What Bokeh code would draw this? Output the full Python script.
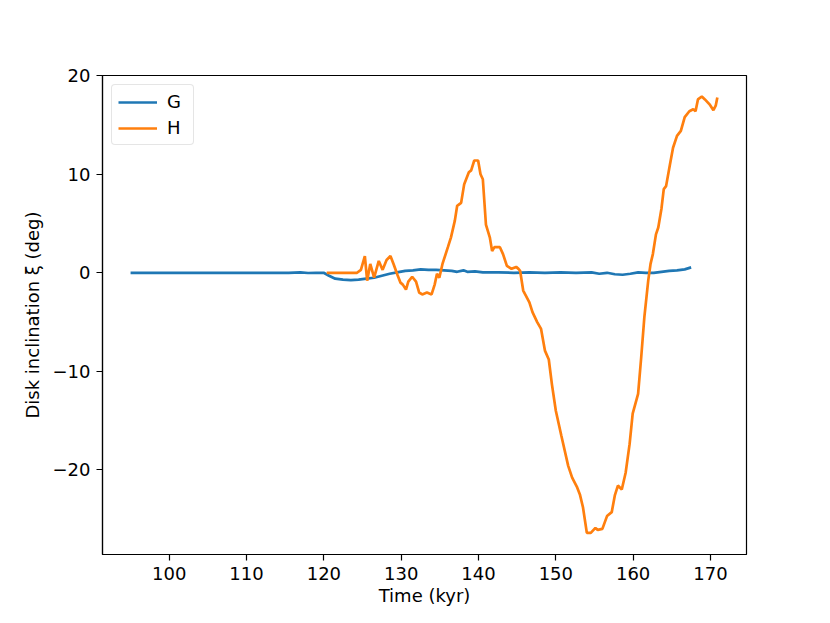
from bokeh.plotting import figure
from bokeh.models import FixedTicker, Range1d, Legend, LegendItem
from bokeh.embed import file_html
from bokeh.resources import INLINE

G_t = [95.0, 100.39, 105.41, 110.43, 115.45, 116.96, 117.96, 118.97, 119.97, 120.67, 121.47,
       122.47, 123.49, 124.49, 125.49, 126.50, 127.50, 128.51, 129.81, 130.52, 131.52, 132.52,
       133.53, 134.53, 135.54, 136.54, 137.24, 138.05, 138.55, 139.55, 140.56, 142.57, 144.58,
       146.58, 148.59, 150.60, 152.61, 154.62, 155.62, 156.63, 157.63, 158.64, 159.64, 160.65,
       161.65, 162.66, 163.66, 164.66, 165.67, 166.67, 167.5]
G_v = [0, 0, 0, 0, 0, 0.05, -0.02, 0, 0, -0.3, -0.6,
       -0.7, -0.75, -0.7, -0.6, -0.5, -0.3, -0.1, 0.1, 0.2, 0.25, 0.35,
       0.3, 0.3, 0.25, 0.2, 0.1, 0.25, 0.1, 0.15, 0.05, 0.05, 0.0,
       0.05, 0.0, 0.05, 0.0, 0.05, -0.1, 0.0, -0.15, -0.2, -0.1, 0.05,
       0.0, 0.0, 0.1, 0.2, 0.25, 0.35, 0.55]

H_t = [120.37, 124.29, 124.79, 125.30, 125.60, 126.00, 126.50, 127.10, 127.60, 128.11,
       128.61, 129.01, 129.51, 129.91, 130.21, 130.62, 130.92, 131.42, 131.92, 132.32,
       132.72, 133.33, 133.93, 134.33, 134.63, 134.93, 135.34, 136.04, 136.44, 136.94,
       137.24, 137.75, 138.15, 138.75, 139.05, 139.45, 139.95, 140.26, 140.56, 140.96,
       141.46, 141.76, 142.06, 142.77, 143.17, 143.67, 144.27, 144.87, 145.17, 145.38,
       145.78, 146.58, 146.98, 147.59, 148.09, 148.59, 149.09, 149.49, 150.00, 150.70,
       151.60, 152.11, 152.71, 153.11, 153.51, 154.01, 154.52, 155.12, 155.42, 156.02,
       156.62, 157.23, 157.63, 158.03, 158.53, 159.03, 159.54, 159.94, 160.64, 161.04,
       161.45, 161.95, 162.25, 162.55, 162.95, 163.25, 163.66, 163.96, 164.26, 164.76,
       165.16, 165.67, 166.17, 166.67, 167.27, 167.77, 168.07, 168.38, 168.88, 169.28,
       169.88, 170.38, 170.69, 170.89]
H_v = [0, 0, 0.3, 1.7, -0.8, 0.9, -0.5, 1.2, 0.3, 1.3,
       1.7, 0.9, -0.2, -1.0, -1.2, -1.7, -0.9, -0.4, -0.9, -2.0,
       -2.2, -2.0, -2.2, -1.2, -0.1, -0.5, 0.9, 2.6, 3.6, 5.3,
       6.8, 7.1, 9.0, 10.2, 10.4, 11.4, 11.4, 10.0, 9.5, 4.9,
       3.6, 2.2, 2.6, 2.6, 1.9, 0.7, 0.4, 0.6, 0.4, 0.2,
       -1.8, -3.0, -4.0, -5.0, -5.7, -7.9, -8.8, -11.3, -14.0, -16.5,
       -19.6, -20.8, -21.7, -22.5, -23.8, -26.4, -26.4, -25.9, -26.1, -26.0,
       -24.7, -24.3, -22.6, -21.6, -22.0, -20.3, -17.4, -14.3, -12.3, -8.6,
       -4.5, -0.8, 0.9, 1.9, 3.9, 4.6, 6.5, 8.5, 8.8, 11.0,
       12.7, 13.9, 14.4, 15.8, 16.4, 16.6, 16.4, 17.6, 17.9, 17.6,
       17.1, 16.5, 17.0, 17.8]

x_ticks = [100, 110, 120, 130, 140, 150, 160, 170]
y_ticks = [-20, -10, 0, 10, 20]
y_tick_labels = {-20: "\u221220", -10: "\u221210", 0: "0", 10: "10", 20: "20"}

FONT = "DejaVu Sans"
FS = "18px"

p = figure(width=822, height=614, output_backend="svg", toolbar_location=None,
           x_range=Range1d(91.37, 174.66), y_range=Range1d(-28.6, 20.03),
           min_border_left=102, min_border_right=76, min_border_top=75, min_border_bottom=60)

p.xgrid.visible = False
p.ygrid.visible = False
p.outline_line_color = "black"
p.outline_line_width = 1.2
p.background_fill_color = "white"
p.border_fill_color = "white"

for ax in (p.xaxis[0], p.yaxis[0]):
    ax.axis_line_color = "black"
    ax.axis_line_width = 1.2
    ax.major_tick_line_color = "black"
    ax.major_tick_line_width = 1.2
    ax.major_tick_out = 6
    ax.major_tick_in = 0
    ax.minor_tick_line_color = None
    ax.major_label_text_font = FONT
    ax.major_label_text_font_size = FS
    ax.major_label_text_color = "black"
    ax.axis_label_text_font = FONT
    ax.axis_label_text_font_size = FS
    ax.axis_label_text_font_style = "normal"
    ax.axis_label_text_color = "black"

p.xaxis.ticker = FixedTicker(ticks=x_ticks)
p.yaxis.ticker = FixedTicker(ticks=y_ticks)
p.yaxis.major_label_overrides = y_tick_labels
p.xaxis.axis_label = "Time (kyr)"
p.yaxis.axis_label = "Disk inclination \u03be (deg)"
p.xaxis.axis_label_standoff = 2
p.yaxis.axis_label_standoff = 7
p.xaxis.major_label_standoff = 6
p.yaxis.major_label_standoff = 6

rg = p.line(G_t, G_v, line_color="#1f77b4", line_width=2.7)
rh = p.line(H_t, H_v, line_color="#ff7f0e", line_width=2.7)

legend = Legend(items=[LegendItem(label="G", renderers=[rg]),
                       LegendItem(label="H", renderers=[rh])],
                location="top_left")
legend.label_text_font = FONT
legend.label_text_font_size = FS
legend.label_text_color = "black"
legend.border_line_color = "#cccccc"
legend.border_line_width = 1.2
legend.border_radius = 4
legend.background_fill_alpha = 0.8
legend.glyph_width = 39
legend.glyph_height = 20
legend.label_height = 20
legend.label_standoff = 10
legend.spacing = 5
legend.padding = 6
legend.margin = 9
p.add_layout(legend)

open("out.html", "w").write(file_html(p, INLINE))
